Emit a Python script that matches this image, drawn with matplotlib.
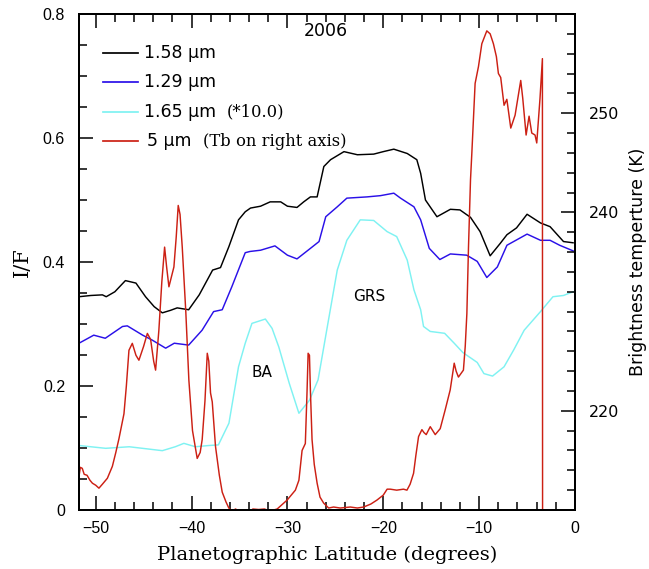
import matplotlib
matplotlib.use("Agg")
import matplotlib.pyplot as plt
from matplotlib.ticker import MultipleLocator, FixedLocator

# ---------------- data ----------------
lat_158 = [-51.74, -50.5, -49.3, -48.9, -48.0, -46.9, -45.8, -44.8, -43.9, -43.05, -42.2, -41.5,
           -40.3, -39.2, -37.8, -36.98, -36.1, -35.1, -34.4, -33.85, -32.8, -31.8, -30.7, -30.0,
           -29.0, -28.3, -27.6, -26.9, -26.2, -25.5, -24.1, -22.7, -21.0, -20.0, -18.9, -17.5,
           -16.5, -16.1, -15.6, -14.4, -13.0, -12.0, -10.9, -9.9, -8.85, -7.8, -7.1, -6.1, -5.0,
           -3.6, -2.6, -1.2, -0.2]
if_158 = [0.344, 0.346, 0.347, 0.344, 0.352, 0.370, 0.366, 0.344, 0.328, 0.318, 0.322, 0.326,
          0.323, 0.347, 0.387, 0.391, 0.425, 0.468, 0.481, 0.487, 0.490, 0.497, 0.497, 0.490,
          0.488, 0.497, 0.505, 0.505, 0.554, 0.565, 0.578, 0.573, 0.574, 0.578, 0.582, 0.575,
          0.565, 0.543, 0.500, 0.473, 0.485, 0.484, 0.472, 0.449, 0.410, 0.430, 0.444, 0.455,
          0.477, 0.463, 0.457, 0.433, 0.431]

lat_129 = [-51.74, -50.2, -49.0, -47.2, -46.7, -45.1, -44.1, -42.7, -41.8, -40.3, -38.9, -37.7,
           -36.8, -35.8, -34.4, -33.9, -32.8, -31.3, -30.0, -29.0, -27.6, -26.7, -26.0, -24.8,
           -23.8, -21.7, -20.3, -18.9, -18.2, -16.8, -16.1, -15.2, -14.1, -13.0, -11.3, -10.2,
           -9.2, -8.1, -7.1, -5.0, -3.6, -2.6, -1.6, -0.2]
if_129 = [0.269, 0.282, 0.277, 0.296, 0.297, 0.282, 0.274, 0.261, 0.269, 0.266, 0.290, 0.320,
          0.323, 0.360, 0.415, 0.417, 0.419, 0.426, 0.411, 0.405, 0.422, 0.433, 0.473, 0.489,
          0.503, 0.505, 0.507, 0.511, 0.503, 0.489, 0.468, 0.422, 0.404, 0.413, 0.411, 0.401,
          0.375, 0.392, 0.427, 0.445, 0.435, 0.435, 0.427, 0.418]

lat_165 = [-51.74, -48.96, -46.5, -43.05, -41.7, -40.8, -39.6, -38.2, -37.2, -36.1, -35.1, -34.4,
           -33.7, -32.3, -31.6, -30.9, -29.8, -28.8, -27.7, -26.8, -25.9, -24.8, -23.8, -22.4,
           -21.0, -19.6, -18.6, -17.5, -16.8, -16.1, -15.8, -15.1, -13.6, -12.6, -11.7, -10.2,
           -9.5, -8.6, -7.4, -6.4, -5.3, -3.6, -2.3, -1.2, -0.2]
if_165 = [0.104, 0.0995, 0.102, 0.0957, 0.102, 0.1075, 0.102, 0.104, 0.105, 0.140, 0.231, 0.269,
          0.301, 0.308, 0.293, 0.263, 0.204, 0.156, 0.177, 0.210, 0.290, 0.387, 0.435, 0.468,
          0.467, 0.449, 0.441, 0.403, 0.355, 0.323, 0.296, 0.288, 0.285, 0.269, 0.254, 0.238,
          0.220, 0.216, 0.231, 0.258, 0.290, 0.320, 0.344, 0.346, 0.352]

lat_5um = [-51.74, -51.6, -51.4, -51.2, -50.9, -50.6, -50.34, -50.0, -49.66, -49.3, -48.78, -48.26,
           -47.9, -47.57, -47.05, -46.8, -46.53, -46.18, -45.8, -45.49, -45.0, -44.61, -44.27,
           -43.95, -43.75, -43.41, -43.1, -42.81, -42.6, -42.36, -41.84, -41.6, -41.39, -41.2,
           -40.97, -40.6, -40.28, -39.9, -39.41, -39.1, -38.89, -38.6, -38.36, -38.2, -38.02,
           -37.84, -37.5, -37.1, -36.8, -36.4, -36.11, -35.8, -35.4, -34.8, -34.0, -33.6, -33.0,
           -32.4, -31.8, -31.07, -30.5, -30.03, -29.6, -29.17, -28.8, -28.47, -28.13, -27.95,
           -27.84, -27.7, -27.6, -27.43, -27.2, -26.9, -26.6, -26.22, -25.7, -25.18, -24.5,
           -23.44, -22.7, -22.05, -21.3, -20.66, -20.0, -19.6, -19.27, -18.6, -17.89, -17.53,
           -17.2, -16.84, -16.6, -16.32, -15.97, -15.75, -15.52, -15.1, -14.58, -14.06, -13.54,
           -13.02, -12.6, -12.4, -12.16, -11.64, -11.45, -11.28, -11.11, -10.9, -10.76, -10.42,
           -10.07, -9.72, -9.2, -8.85, -8.51, -8.2, -7.99, -7.75, -7.4, -7.11, -6.7, -6.25,
           -5.66, -5.45, -5.1, -4.79, -4.51, -4.17, -3.99, -3.65, -3.40, -3.36]
tb_5um = [213.4, 214.3, 214.2, 213.6, 213.5, 213.0, 212.7, 212.5, 212.2, 212.6, 213.2, 214.4,
          215.8, 217.2, 219.7, 222.5, 226.1, 226.8, 225.6, 225.1, 226.5, 227.8, 227.2,
          225.0, 224.1, 228.1, 233.0, 236.5, 234.5, 232.5, 234.5, 237.5, 240.7, 239.8,
          236.5, 230.0, 223.1, 218.0, 215.2, 215.8, 217.1, 221.0, 225.8, 225.0, 221.8,
          220.9, 216.4, 213.5, 211.8, 210.8, 210.2, 209.9, 210.1, 209.6, 209.8, 210.1, 210.05,
          210.1, 209.9, 210.1, 210.6, 211.0, 211.5, 212.0, 213.0, 216.0, 216.7, 222.0,
          225.8, 225.6, 222.0, 217.1, 214.6, 212.7, 211.3, 210.7, 210.2, 210.3, 210.2,
          210.3, 210.2, 210.3, 210.6, 211.0, 211.5, 212.1, 212.1, 212.0, 212.1, 212.0,
          212.6, 213.7, 215.5, 217.4, 218.1, 217.8, 217.6, 218.4, 217.6, 218.2, 220.1,
          222.1, 224.8, 224.0, 223.4, 224.1, 226.5, 229.8, 236.5, 243.3, 246.0, 253.0,
          254.7, 257.0, 258.3, 258.0, 257.0, 255.7, 254.0, 253.6, 250.8, 251.4, 248.5, 249.8,
          253.3, 251.5, 247.8, 249.7, 248.0, 247.8, 247.0, 251.5, 255.5, 150.0]

xticks = [-50, -40, -30, -20, -10, 0]
xticklabels = ["\u221250", "\u221240", "\u221230", "\u221220", "\u221210", "0"]
yticks_left = [0, 0.2, 0.4, 0.6, 0.8]
yticklabels_left = ["0", "0.2", "0.4", "0.6", "0.8"]
yticks_right = [220, 240, 250]

legend_labels = ["1.58 \u00b5m", "1.29 \u00b5m", "1.65 \u00b5m", "5 \u00b5m"]
legend_notes = ["", "", "(*10.0)", "(Tb on right axis)"]

# ---------------- styling ----------------
c_black = "#000000"
c_blue = "#2a10e8"
c_cyan = "#7ff2f2"
c_red = "#cc2014"
lw = 1.05

fig = plt.figure(figsize=(6.49, 5.69), dpi=100)
ax = fig.add_axes([79/649, 59/569, 496/649, 496/569])

ax.plot(lat_158, if_158, color=c_black, lw=lw)
ax.plot(lat_129, if_129, color=c_blue, lw=lw)
ax.plot(lat_165, if_165, color=c_cyan, lw=lw)

ax.set_xlim(-51.74, 0)
ax.set_ylim(0, 0.8)

ax.xaxis.set_major_locator(FixedLocator(xticks))
ax.xaxis.set_minor_locator(MultipleLocator(2))
ax.set_xticklabels(xticklabels)
ax.yaxis.set_major_locator(FixedLocator(yticks_left))
ax.yaxis.set_minor_locator(MultipleLocator(0.05))
ax.set_yticklabels(yticklabels_left)

tick_font = "Liberation Sans"
ax.tick_params(which="both", direction="in", top=True, right=False, width=1.1)
ax.tick_params(which="major", length=10)
ax.tick_params(which="minor", length=6)
ax.tick_params(axis="y", which="major", pad=10)
ax.tick_params(axis="x", which="major", pad=8)
for lab in ax.get_xticklabels() + ax.get_yticklabels():
    lab.set_fontfamily(tick_font)
    lab.set_fontsize(11.5)

for s in ax.spines.values():
    s.set_linewidth(1.4)

ax.set_xlabel("Planetographic Latitude (degrees)", family="DejaVu Serif", fontsize=14, labelpad=7)
ax.set_ylabel("I/F", family="DejaVu Serif", fontsize=15, labelpad=8)

ax2 = ax.twinx()
ax2.plot(lat_5um, tb_5um, color=c_red, lw=lw)
ax2.set_ylim(210, 260)
ax2.yaxis.set_major_locator(FixedLocator(yticks_right))
ax2.yaxis.set_minor_locator(MultipleLocator(2))
ax2.tick_params(which="both", direction="in", right=True, left=False, width=1.1)
ax2.tick_params(which="major", length=10, pad=10)
ax2.tick_params(which="minor", length=6)
for lab in ax2.get_yticklabels():
    lab.set_fontfamily("DejaVu Sans")
    lab.set_fontsize(11.5)
ax2.set_ylabel("Brightness temperture (K)", family="DejaVu Sans", fontsize=12.5, labelpad=7)
for s in ax2.spines.values():
    s.set_linewidth(1.4)

# annotations
ax.text(-26.0, 0.772, "2006", family="DejaVu Sans", fontsize=12.5, ha="center", va="center")
ax.text(-32.7, 0.222, "BA", family="DejaVu Sans", fontsize=11, ha="center", va="center")
ax.text(-21.5, 0.345, "GRS", family="DejaVu Sans", fontsize=11, ha="center", va="center")

# hand-drawn legend (axes fraction coordinates)
colors = [c_black, c_blue, c_cyan, c_red]
rows = [0.921, 0.862, 0.802, 0.743]
note_x = [None, None, 0.298, 0.250]
for lab, note, col, yy, nx in zip(legend_labels, legend_notes, colors, rows, note_x):
    ax.plot([0.048, 0.119], [yy, yy], color=col, lw=lw + 0.2, transform=ax.transAxes)
    ax.text(0.131 if col != c_red else 0.137, yy, lab, family="DejaVu Sans", fontsize=12.5,
            ha="left", va="center", transform=ax.transAxes)
    if note:
        ax.text(nx, yy, note, family="DejaVu Serif", fontsize=11.8,
                ha="left", va="center", transform=ax.transAxes)

fig.savefig("out.png", dpi=100)
